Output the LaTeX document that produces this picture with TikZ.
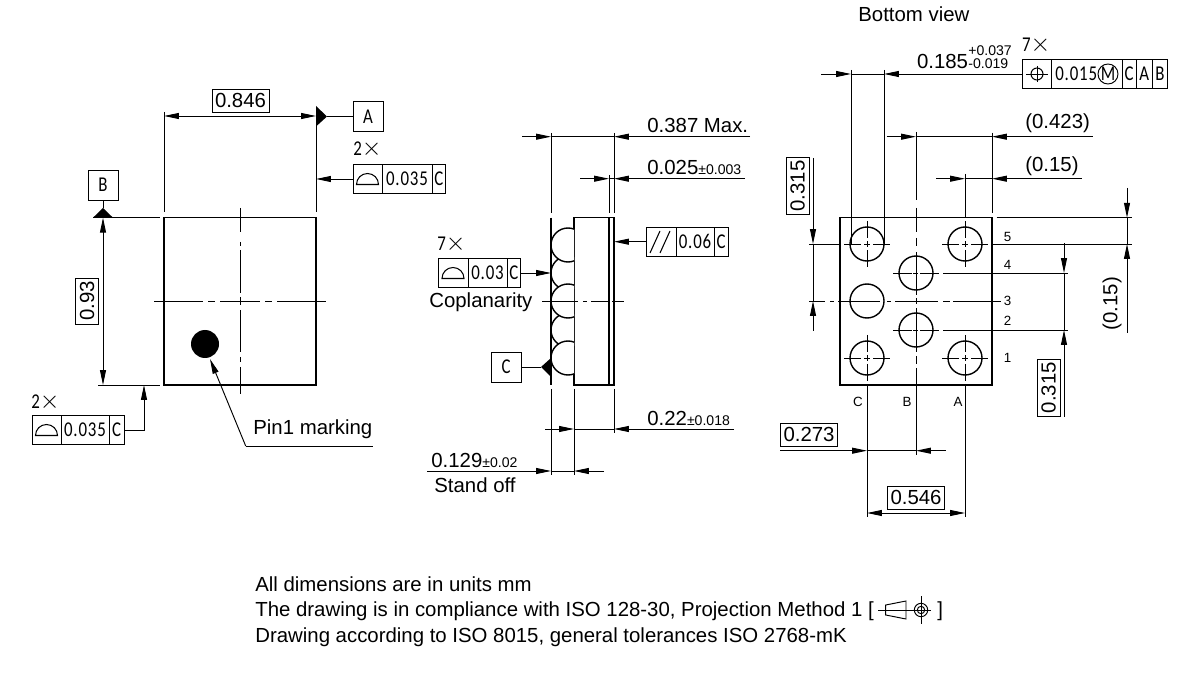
\documentclass[tikz,border=0pt]{standalone}
\usepackage{fontspec}
\setmainfont{Liberation Sans}
\newfontfamily\isofont[LetterSpace=4,FakeStretch=0.8]{Carlito}
\usetikzlibrary{arrows.meta}

\def\px{0.02cm}
\newcommand{\dimfont}{\fontsize{11.6}{13}\selectfont}
\newcommand{\notefont}{\fontsize{11.6}{13}\selectfont}
\newcommand{\tolfont}{\fontsize{8}{9}\selectfont}
\newcommand{\frmfont}{\isofont\fontsize{12}{13}\selectfont}
\newcommand{\xmark}{{\fontsize{14.4}{13}\selectfont$\times$}}
% one cell of a tolerance frame: name, left, right, centre y, text
\newcommand{\framecell}[5]{\node [frmcell, minimum width={(#3-#2)*\px}] (#1) at ({(#2+#3)/2},#4) {#5};}

\tikzset{
	dimline/.style={line width=0.54pt},
	tip/.style={dimline, -{Stealth[length=8.5pt, width=3.4pt, inset=0pt]}},
	tips/.style={dimline, {Stealth[length=8.5pt, width=3.4pt, inset=0pt]}-{Stealth[length=8.5pt, width=3.4pt, inset=0pt]}},
	outline/.style={line width=0.9pt},
	centreline/.style={line width=0.54pt},
	ballline/.style={line width=0.8pt},
	frmcell/.style={draw, line width=0.54pt, inner sep=0pt, minimum height={29*\px}, font=\frmfont},
	valuebox/.style={draw, line width=0.54pt, inner sep=0pt, minimum width={57*\px}, minimum height={23*\px}, font=\dimfont},
	dimtext/.style={inner sep=0pt, anchor=base west, font=\dimfont},
	notetext/.style={inner sep=0pt, anchor=base west, font=\notefont},
	frmtext/.style={inner sep=0pt, anchor=base west, font=\frmfont},
	pinlabel/.style={inner sep=0pt, font=\fontsize{7.6}{9}\selectfont},
}

\begin{document}
\begin{tikzpicture}[x=\px, y=-\px]
	\useasboundingbox (0,0) rectangle (1200,675);

	% top view
	\draw [outline] (164,217.7) rectangle (316,385);
	\foreach \a/\b in {154/203,208/215,220/260,265/272,277/326}
		\draw [centreline] (\a,301) -- (\b,301);
	\foreach \a/\b in {208/232,242/246,250/293,297/305,310/352,357/362,367/394}
		\draw [centreline] (240,\a) -- (240,\b);
	\fill (205,344) circle [radius=14];

	\draw [dimline] (164,112) -- (164,212);
	\draw [dimline] (316,112) -- (316,212);
	\draw [tips] (164,116) -- (316,116);
	\node [valuebox] (widthval) at (240.5,100.5) {0.846};

	\draw [dimline] (93,217.7) -- (160,217.7);
	\draw [dimline] (98,385) -- (160,385);
	\draw [tips] (103,217.7) -- (103,385);
	\node [valuebox, rotate=90, minimum width={46*\px}] (lengthval) at (87,301) {0.93};

	\node [frmcell, minimum width={30*\px}, minimum height={30*\px}] (datumA) at (368,116.5) {A};
	\fill (316,106) -- (327,116.5) -- (316,126.5) -- cycle;
	\draw [dimline] (327,116.5) -- (datumA);
	\node [frmcell, minimum width={30*\px}, minimum height={30*\px}] (datumB) at (103,185) {B};
	\fill (93,217.7) -- (103,208) -- (113,217.7) -- cycle;
	\draw [dimline] (datumB) -- (103,208);

	\node [frmtext] (countA) at (353,156) {2\xmark};
	\framecell{flatA}{353}{382}{179}{}
	\framecell{flatAval}{382}{432}{179}{0.035}
	\framecell{flatAref}{432}{445.5}{179}{C}
	\draw [line width=0.6pt] (356.5,184.5) arc [start angle=180, end angle=360, radius=11] -- cycle;
	\draw [tip] (flatA.west) -- (316,179);

	\node [frmtext] (countB) at (31,408) {2\xmark};
	\framecell{flatB}{32}{61}{430}{}
	\framecell{flatBval}{61}{109}{430}{0.035}
	\framecell{flatBref}{109}{124}{430}{C}
	\draw [line width=0.6pt] (35.5,435.5) arc [start angle=180, end angle=360, radius=11] -- cycle;
	\draw [tip] (flatBref.east) -- (144,430) -- (144,385);

	\draw [tip] (245.7,446) -- (210,359);
	\draw [dimline] (245.7,446) -- (373,446);
	\node [dimtext] (pinmark) at (253,435) {Pin1 marking};

	% side view
	\draw [outline] (574,217.7) rectangle (614,385);
	\draw [outline] (609,217.7) -- (609,385);
	\begin{scope}
		\clip (540,210) rectangle (574,392);
		\foreach \y in {273,330}
			\draw [ballline, fill=white] (568,\y) circle [radius=17];
		\foreach \y in {245,301,358}
			\draw [ballline, fill=white] (568,\y) circle [radius=17];
	\end{scope}
	\draw [outline] (551,217.7) -- (551,385);
	\foreach \a/\b in {542/578,583/587,591/608,612/624}
		\draw [centreline] (\a,301) -- (\b,301);

	\draw [dimline] (551,133) -- (551,213);
	\draw [dimline] (614,133) -- (614,213);
	\draw [dimline] (609,175) -- (609,213);
	\draw [dimline] (551,389) -- (551,475);
	\draw [dimline] (574,389) -- (574,475);
	\draw [dimline] (614,389) -- (614,433);

	\draw [dimline] (551,136.7) -- (614,136.7);
	\draw [tip] (522,136.7) -- (551,136.7);
	\draw [tip] (750,136.7) -- (614,136.7);
	\node [dimtext] (heightval) at (647,132.5) {0.387 Max.};

	\draw [dimline] (609,178.7) -- (614,178.7);
	\draw [tip] (580,178.7) -- (609,178.7);
	\draw [tip] (745,178.7) -- (614,178.7);
	\node [dimtext] (lidval) at (647,175) {0.025{\tolfont ±0.003}};

	\draw [dimline] (574,429) -- (614,429);
	\draw [tip] (545,429) -- (574,429);
	\draw [tip] (734,429) -- (614,429);
	\node [dimtext] (bodyval) at (647,425) {0.22{\tolfont ±0.018}};

	\draw [dimline] (551,471) -- (574,471);
	\draw [tip] (427,471) -- (551,471);
	\draw [tip] (604,471) -- (574,471);
	\node [dimtext] (standval) at (431,467) {0.129{\tolfont ±0.02}};
	\node [dimtext] (standoff) at (434,492) {Stand off};

	\framecell{parallel}{646}{676}{241.7}{}
	\framecell{parallelval}{676}{714}{241.7}{0.06}
	\framecell{parallelref}{714}{728}{241.7}{C}
	\draw [line width=0.6pt] (650,253) -- (660,231) (660,253) -- (670,231);
	\draw [tip] (parallel.west) -- (614,241.7);

	\node [frmtext] (countC) at (437,251) {7\xmark};
	\framecell{coplan}{438}{468}{273}{}
	\framecell{coplanval}{468}{507}{273}{0.03}
	\framecell{coplanref}{507}{520.7}{273}{C}
	\draw [line width=0.6pt] (442,278.5) arc [start angle=180, end angle=360, radius=11] -- cycle;
	\draw [tip] (coplanref.east) -- (551,273);
	\node [dimtext] (coplanarity) at (429,308) {Coplanarity};

	\node [frmcell, minimum width={30*\px}, minimum height={30*\px}] (datumC) at (506,367) {C};
	\fill (551,358) -- (541,367) -- (551,377) -- cycle;
	\draw [dimline] (datumC) -- (541,367);

	% bottom view
	\node [dimtext] (viewname) at (858,21.7) {Bottom view};
	\draw [outline] (840,217.7) rectangle (992,385);
	\foreach \x/\y in {867/244,965/244,916/273,867/301,916/330,867/358,965/358}
		\draw [ballline] (\x,\y) circle [radius=17];
	\foreach \x/\y in {867/244,965/244,867/358,965/358}
		\foreach \a/\b in {-23/-6,-3/3,6/23} {
			\draw [centreline] ({\x+\a},\y) -- ({\x+\b},\y);
			\draw [centreline] (\x,{\y+\a}) -- (\x,{\y+\b});
		}
	\foreach \y in {273,330}
		\foreach \a/\b in {893/912,913/918,920/939}
			\draw [centreline] (\a,\y) -- (\b,\y);
	\foreach \a/\b in {809/825,830/834,838/880,887/891,895/938,943/950,953/1001}
		\draw [centreline] (\a,301) -- (\b,301);
	\foreach \a/\b in {132/200,208/232,238/246,252/295,298/304,308/352,356/364,368/455}
		\draw [centreline] (916,\a) -- (916,\b);

	\draw [dimline] (851,70) -- (851,244);
	\draw [dimline] (884,70) -- (884,244);
	\draw [dimline] (992,132.7) -- (992,213);
	\draw [dimline] (965,174) -- (965,217.7);
	\draw [dimline] (867,385) -- (867,517);
	\draw [dimline] (965,385) -- (965,517);
	\draw [dimline] (809,244) -- (840,244);
	\draw [dimline] (992,244) -- (1131.7,244);
	\draw [dimline] (996.7,217.7) -- (1131.7,217.7);
	\draw [dimline] (943,273) -- (1068,273);
	\draw [dimline] (943,330) -- (1068,330);

	\draw [dimline] (851,74) -- (884,74);
	\draw [tip] (821,74) -- (851,74);
	\node [dimtext] (ballval) at (916.7,69) {0.185};
	\node [inner sep=0pt, anchor=base west, font=\tolfont] (ballupper) at (968,55.7) {+0.037};
	\node [inner sep=0pt, anchor=base west, font=\tolfont] (balllower) at (968,69) {-0.019};

	\node [frmtext] (countD) at (1021.7,52) {7\xmark};
	\framecell{position}{1022.7}{1051.7}{74}{}
	\framecell{positionval}{1051.7}{1122}{74}{}
	\framecell{positionC}{1122}{1136}{74}{C}
	\framecell{positionA}{1136}{1152.7}{74}{A}
	\framecell{positionB}{1152.7}{1167}{74}{B}
	\draw [tip] (position.west) -- (884,74);
	\draw [line width=0.6pt] (1037,74) circle [radius=6];
	\draw [line width=0.5pt] (1026,74) -- (1048,74) (1037,66) -- (1037,82);
	\node [frmtext] (posval) at (1055,80.5) {0.015};
	\node [draw, circle, line width=0.54pt, inner sep=0pt, minimum size={20*\px}, font=\frmfont] (maxmat) at (1108,74) {M};

	\draw [dimline] (916,136.7) -- (992,136.7);
	\draw [tip] (886.7,136.7) -- (916,136.7);
	\draw [tip] (1092.7,136.7) -- (992,136.7);
	\node [dimtext] (outerval) at (1025,129) {(0.423)};

	\draw [dimline] (965,178.7) -- (992,178.7);
	\draw [tip] (936,178.7) -- (965,178.7);
	\draw [tip] (1081.7,178.7) -- (992,178.7);
	\node [dimtext] (edgexval) at (1025,171.7) {(0.15)};

	\draw [dimline] (813,244) -- (813,301);
	\draw [tip] (813,158) -- (813,244);
	\draw [tip] (813,330.7) -- (813,301);
	\node [valuebox, rotate=90] (pitchleft) at (797.5,186) {0.315};

	\draw [dimline] (1127,217.7) -- (1127,244);
	\draw [tip] (1127,188) -- (1127,217.7);
	\draw [tip] (1127,333) -- (1127,244);
	\node [inner sep=0pt, rotate=90, font=\dimfont] (edgeyval) at (1112,303.5) {(0.15)};

	\draw [dimline] (1064,273) -- (1064,330);
	\draw [tip] (1064,243) -- (1064,273);
	\draw [tip] (1064,416.7) -- (1064,330);
	\node [valuebox, rotate=90] (pitchright) at (1048.5,387.5) {0.315};

	\draw [dimline] (867,450.7) -- (916,450.7);
	\draw [tip] (780,450.7) -- (867,450.7);
	\draw [tip] (945.7,450.7) -- (916,450.7);
	\node [valuebox] (halfpitch) at (809,434.5) {0.273};

	\draw [tips] (867,513) -- (965,513);
	\node [valuebox] (fullpitch) at (916,497.5) {0.546};

	\foreach \n/\y in {5/236.7,4/265,3/301,2/321,1/358}
		\node [pinlabel] (pin\n) at (1007.5,\y) {\n};
	\foreach \n/\x in {C/858,B/907,A/958}
		\node [pinlabel] (col\n) at (\x,401.7) {\n};

	% notes
	\node [notetext] (noteone) at (255,591) {All dimensions are in units mm};
	\node [notetext] (notetwo) at (255,616) {The drawing is in compliance with ISO 128-30, Projection Method 1 [};
	\node [notetext] (closing) at (937,616) {]};
	\node [notetext] (notethree) at (255,642) {Drawing according to ISO 8015, general tolerances ISO 2768-mK};
	\draw [line width=0.55pt] (885.7,605) -- (906,601) -- (906,619) -- (885.7,615) -- cycle;
	\draw [line width=0.5pt] (878,610) -- (930.5,610) (921,596) -- (921,624);
	\draw [line width=0.55pt] (921,610) circle [radius=6.7] (921,610) circle [radius=3.7];
\end{tikzpicture}
\end{document}
